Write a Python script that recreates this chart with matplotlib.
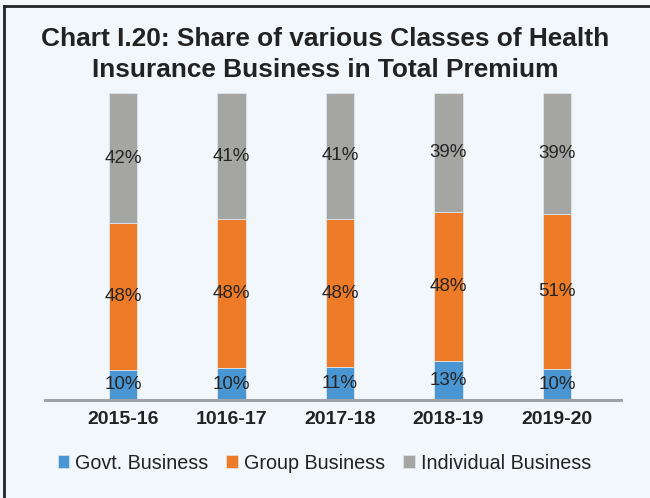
import matplotlib
matplotlib.use("Agg")
import matplotlib.pyplot as plt
from matplotlib.patches import Patch
from matplotlib.lines import Line2D
import numpy as np

years = ["2015-16", "1016-17", "2017-18", "2018-19", "2019-20"]
govt = [9.8, 10.4, 10.7, 12.7, 10.0]
group = [47.8, 48.4, 48.3, 48.4, 50.6]
individual = [42.4, 41.2, 41.0, 38.9, 39.4]
series_names = ["Govt. Business", "Group Business", "Individual Business"]
colors = ["#4A96D2", "#EE7B27", "#A5A5A3"]

bg = "#F2F7FC"
plt.rcParams['font.family'] = ['Liberation Sans', 'DejaVu Sans']

fig = plt.figure(figsize=(6.5, 4.98), dpi=100, facecolor=bg)
ax = fig.add_axes([45/650, 98/498, 576/650, 307/498])
ax.set_facecolor(bg)

x = np.arange(len(years))
w = 0.26
bottom = np.zeros(len(years))
for vals, c in zip([govt, group, individual], colors):
    vals = np.array(vals, dtype=float)
    ax.bar(x, vals, w, bottom=bottom, color=c, edgecolor="#DDE6EE", linewidth=0.6, zorder=2)
    for xi, b, v in zip(x, bottom, vals):
        ax.text(xi, b + v / 2, f"{v:.0f}%", ha="center", va="center",
                fontsize=13.5, color="#262626", zorder=3)
    bottom += vals

ax.set_xlim(-0.72, 4.59)
ax.set_ylim(0, 100)
for s in ["top", "right", "left"]:
    ax.spines[s].set_visible(False)
ax.spines["bottom"].set_color("#A0A2A5")
ax.spines["bottom"].set_linewidth(2.2)
ax.spines["bottom"].set_zorder(4)
ax.set_yticks([])
ax.set_xticks(x)
ax.set_xticklabels(years, fontsize=14, fontweight="bold", color="#222222")
ax.tick_params(axis="x", length=0, pad=8)

fig.text(0.5, 1 - 54.5/498, "Chart I.20: Share of various Classes of Health\nInsurance Business in Total Premium",
         ha="center", va="center", fontsize=18.9, fontweight="bold", color="#222222",
         linespacing=1.32)

handles = [Patch(facecolor=c, edgecolor="#DDE6EE", linewidth=0.5) for c in colors]
leg = fig.legend(handles, series_names, loc="center", bbox_to_anchor=(0.499, 1 - 463/498), ncol=3,
                 frameon=False, fontsize=14.2, handlelength=0.6, handleheight=0.6,
                 handletextpad=0.3, columnspacing=0.9, labelcolor="#222222")

# frame lines (top and left)
fig.add_artist(Line2D([4/650, 1.0], [1 - 6/498, 1 - 6/498], color="#222222", linewidth=2, transform=fig.transFigure))
fig.add_artist(Line2D([4/650, 4/650], [0, 1 - 6/498], color="#222222", linewidth=2, transform=fig.transFigure))

fig.savefig("out.png", dpi=100, facecolor=bg)
